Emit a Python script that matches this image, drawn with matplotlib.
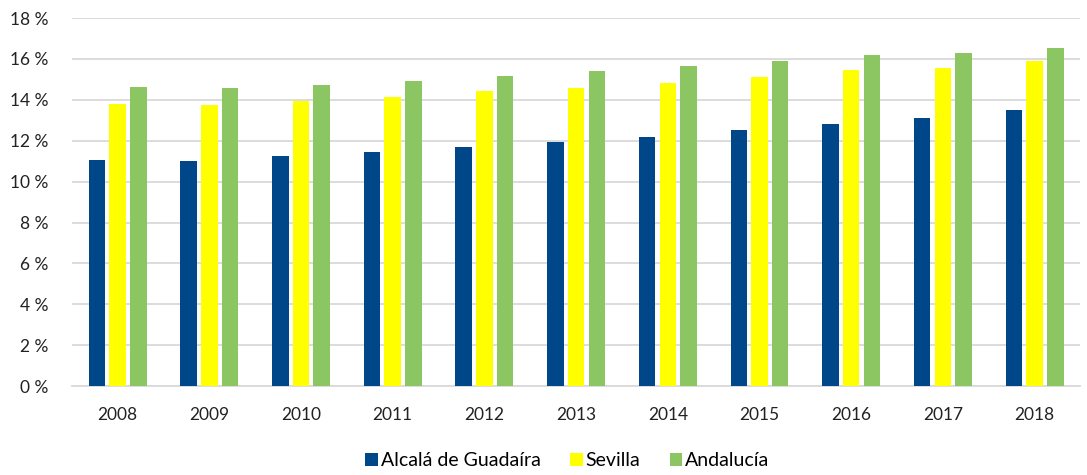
import numpy as np
import matplotlib.pyplot as plt
from matplotlib.ticker import FuncFormatter

years = ["2008", "2009", "2010", "2011", "2012", "2013", "2014", "2015", "2016", "2017", "2018"]
alcala = [11.05, 11.02, 11.26, 11.44, 11.69, 11.93, 12.18, 12.54, 12.84, 13.09, 13.51]
sevilla = [13.79, 13.76, 13.95, 14.15, 14.41, 14.59, 14.82, 15.13, 15.45, 15.58, 15.89]
andalucia = [14.62, 14.57, 14.72, 14.94, 15.19, 15.40, 15.65, 15.89, 16.19, 16.28, 16.53]

series = [("Alcalá de Guadaíra", alcala, "#00478A"),
          ("Sevilla", sevilla, "#FFFF00"),
          ("Andalucía", andalucia, "#8CC663")]

plt.rcParams['font.family'] = ['Lato', 'DejaVu Sans']

fig = plt.figure(figsize=(10.87, 4.75), dpi=100)
ax = fig.add_axes([0.066, 0.187, 0.928, 0.775])

x = np.arange(len(years))
w = 0.18
step = 0.226
for i, (name, vals, col) in enumerate(series):
    ax.bar(x + (i - 1) * step, vals, w, color=col, label=name, zorder=3)

ax.set_xlim(-0.5, len(years) - 0.5)
ax.set_ylim(0, 18)
ax.set_yticks(np.arange(0, 19, 2))
ax.yaxis.set_major_formatter(FuncFormatter(lambda v, p: "%d %%" % v))
ax.set_xticks(x)
ax.set_xticklabels(years)
ax.grid(axis='y', color='#D9D9D9', linewidth=1.3, zorder=0)
for s in ['top', 'right', 'left']:
    ax.spines[s].set_visible(False)
ax.spines['bottom'].set_color('#D9D9D9')
ax.spines['bottom'].set_linewidth(1.3)
ax.tick_params(length=0, labelsize=12.5, colors='#222222')
ax.tick_params(axis='x', pad=15)
ax.tick_params(axis='y', pad=17)

fig.legend(loc='lower center', bbox_to_anchor=(0.522, -0.025), ncol=3, frameon=False,
           fontsize=14, handlelength=0.65, handleheight=0.65, handletextpad=0.15,
           columnspacing=1.5)

fig.savefig("out.png", dpi=100)
